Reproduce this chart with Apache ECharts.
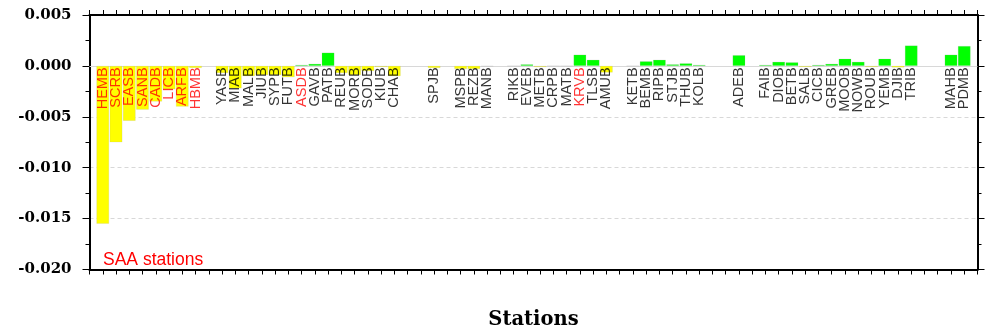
<!DOCTYPE html>
<html><head><meta charset="utf-8">
<script src="https://cdn.jsdelivr.net/npm/echarts@6/dist/echarts.min.js"></script>
<style>html,body{margin:0;padding:0;background:#fff}#c{width:993px;height:332px}</style>
</head><body><div id="c"></div>
<script>
// slot index 0..67; '' = empty slot
const stations = ['', 'HEMB','SCRB','EASB','SANB','CADB','LICB','ARFB','HBMB','',
  'YASB','MIAB','MALB','JIUB','SYPB','FUTB','ASDB','GAVB','PATB','REUB',
  'MORB','SODB','KIUB','CHAB','','','SPJB','','MSPB','REZB',
  'MANB','','RIKB','EVEB','METB','CRPB','MATB','KRVB','TLSB','AMUB',
  '','KETB','BEMB','RIPB','STJB','THUB','KOLB','','','ADEB',
  '','FAIB','DIOB','BETB','SALB','CICB','GREB','MOOB','NOWB','ROUB',
  'YEMB','DJIB','TRIB','','','MAHB','PDMB',''];
const values = [null, -0.0155,-0.0075,-0.0054,-0.0043,-0.0035,-0.0023,-0.0040,-0.0002,null,
  -0.0007,-0.0022,-0.0010,-0.0009,-0.0009,-0.0011,0.0001,0.0002,0.0013,-0.0007,
  -0.0009,-0.0005,-0.0001,-0.0010,null,null,-0.0002,null,-0.0003,-0.0003,
  -0.00005,null,0.0,0.00015,-0.0001,0.0,0.0,0.0011,0.0006,-0.00065,
  null,0.0,0.00045,0.0006,0.00015,0.00025,0.0001,null,null,0.00105,
  null,0.0001,0.0004,0.00035,-0.0001,0.0001,0.0002,0.0007,0.0004,-0.0001,
  0.0007,-0.00015,0.0020,null,null,0.0011,0.00195,null];
const saaStations = ['HEMB','SCRB','EASB','SANB','CADB','LICB','ARFB','HBMB','ASDB','KRVB'];
const yTicks = {min:-0.020, max:0.005, step:0.005};

const chart = echarts.init(document.getElementById('c'));
const labelData = [];
stations.forEach((s,i)=>{ if(s) labelData.push({value:[i,0], name:s,
  label:{color: saaStations.includes(s)?'#ff0000':'#000000'}}); });

const axisLineStyle = {color:'#000', width:2};
chart.setOption({
  animation:false,
  grid:{left:89.5, right:15.5, top:15, bottom:62.5, containLabel:false, outerBoundsMode:'none'},
  title:{text:'SAA stations', left:103, top:251, padding:0,
    textStyle:{color:'#ff0000', fontFamily:'Liberation Sans', fontSize:17.5, fontWeight:'normal'}},
  xAxis:[{type:'category', data:stations, boundaryGap:false, position:'bottom',
      axisLine:{onZero:false, lineStyle:axisLineStyle},
      axisTick:{show:true, interval:0, length:5, lineStyle:{color:'#000', width:1}},
      axisLabel:{show:false}, splitLine:{show:false},
      name:'Stations', nameLocation:'middle', nameGap:40,
      nameTextStyle:{fontFamily:'DejaVu Serif', fontWeight:'bold', fontSize:19.5, color:'#000'}},
    {type:'category', data:stations, boundaryGap:false, position:'top',
      axisLine:{onZero:false, lineStyle:axisLineStyle},
      axisTick:{show:true, interval:0, length:5, lineStyle:{color:'#000', width:1}},
      axisLabel:{show:false}, splitLine:{show:false}}],
  yAxis:[{type:'value', min:yTicks.min, max:yTicks.max, interval:yTicks.step,
      axisLine:{show:true, lineStyle:axisLineStyle},
      axisTick:{show:true, length:7, lineStyle:{color:'#000', width:1}},
      minorTick:{show:true, splitNumber:2, length:4, lineStyle:{color:'#000', width:1}},
      axisLabel:{formatter:v=>v.toFixed(3), margin:18, color:'#000',
        fontFamily:'DejaVu Serif', fontWeight:'bold', fontSize:15},
      splitLine:{show:true, lineStyle:{color:'#d8d8d8', type:[4,3], width:1}}},
    {type:'value', min:yTicks.min, max:yTicks.max, interval:yTicks.step, position:'right',
      axisLine:{show:true, lineStyle:axisLineStyle},
      axisTick:{show:true, length:7, lineStyle:{color:'#000', width:1}},
      minorTick:{show:true, splitNumber:2, length:4, lineStyle:{color:'#000', width:1}},
      axisLabel:{show:false}, splitLine:{show:false}}],
  series:[
    {type:'bar', data:values, barWidth:12.6, z:2,
      itemStyle:{color:p=> p.value<0 ? '#ffff00' : '#00ff00', borderColor:'rgba(160,160,160,0.35)', borderWidth:0.5},
      markLine:{silent:true, symbol:'none', label:{show:false}, z:1,
        lineStyle:{color:'#d8d8d8', type:'solid', width:1}, data:[{yAxis:0}]}},
    {type:'scatter', data:labelData, symbolSize:1, itemStyle:{color:'transparent'}, z:5,
      label:{show:true, position:'bottom', distance:1, rotate:90, align:'right', verticalAlign:'middle',
        formatter:p=>p.name, fontFamily:'Liberation Sans', fontSize:14.5}}
  ]
});
</script></body></html>
